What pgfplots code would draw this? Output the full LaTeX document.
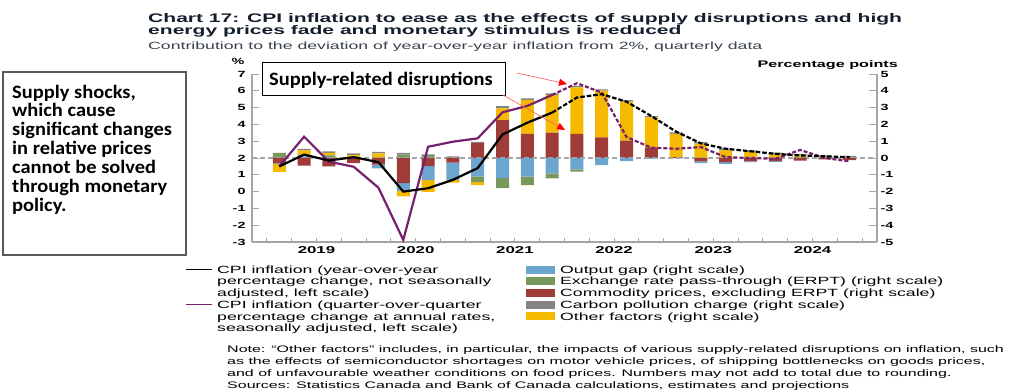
\documentclass[border=0pt]{standalone}
\usepackage{fontspec}
\usepackage{pgfplots}
\pgfplotsset{compat=1.18}
\usepackage{pgfplotstable}
\usetikzlibrary{arrows.meta}
\newfontfamily\chartfont[FakeStretch=1.6]{Liberation Sans}
\newfontfamily\widefont[FakeStretch=1.69]{Liberation Sans}
\newfontfamily\boxfont[FakeStretch=1.08]{Carlito}
\definecolor{ogap}{RGB}{108,165,205}
\definecolor{erpt}{RGB}{120,152,92}
\definecolor{commod}{RGB}{160,60,56}
\definecolor{carbon}{RGB}{132,132,132}
\definecolor{other}{RGB}{245,185,0}
\definecolor{cpiq}{RGB}{118,32,110}
\definecolor{ttl}{RGB}{20,30,45}
\definecolor{axgray}{RGB}{165,165,165}

% positive contributions (right scale)
\pgfplotstableread{
idx blue green red yellow gray
0  0    0.30 0    0    0
1  0.10 0.10 0    0.25 0.10
2  0.05 0.10 0    0.15 0.10
3  0    0.03 0    0.15 0.10
4  0    0    0    0.27 0.10
5  0    0.20 0    0    0.10
6  0    0.12 0    0    0.10
7  0    0    0    0    0.10
8  0    0    0.88 0    0.08
9  0    0    2.26 0.69 0.14
10 0    0    1.43 2.02 0.10
11 0    0    1.51 2.24 0.10
12 0    0    1.43 2.78 0.08
13 0    0    1.23 2.78 0.08
14 0    0    1.03 2.32 0.10
15 0    0    0.63 1.79 0.08
16 0    0    0.05 1.39 0.08
17 0    0    0    0.85 0.10
18 0    0    0    0.45 0.12
19 0    0    0    0.35 0.10
20 0    0    0    0.20 0.12
21 0    0.05 0    0.10 0.10
22 0    0.03 0    0.03 0.10
23 0    0.03 0    0    0.10
}\pos
% negative contributions (right scale)
\pgfplotstableread{
idx red blue green yellow
0  -0.32 -0.05 0     -0.45
1  -0.45 0     0     0
2  -0.50 0     0     0
3  -0.30 0     0     0
4  -0.40 -0.22 0     0
5  -1.50 -0.45 0     -0.33
6  -0.48 -0.83 0     -0.70
7  -0.28 -1.03 0     -0.16
8  0     -1.10 -0.32 -0.20
9  0     -1.20 -0.60 0
10 0     -1.11 -0.50 0
11 0     -0.91 -0.30 0
12 0     -0.67 -0.14 0
13 0     -0.42 0     0
14 0     -0.18 0     0
15 0     -0.03 0     0
16 0     0     0     0
17 -0.20 -0.10 0     0
18 -0.25 -0.10 0     0
19 -0.20 -0.05 0     0
20 -0.18 -0.05 0     0
21 -0.15 0     0     0
22 -0.08 0     0     0
23 -0.12 0     0     0
}\neg
% CPI lines (left scale)
\pgfplotstableread{
idx yoy qoq
0  1.50 1.50
1  2.20 3.27
2  1.85 1.78
3  2.05 1.48
4  1.75 0.23
5  0.00 -2.88
6  0.20 2.67
7  0.70 2.97
8  1.40 3.17
9  3.40 4.72
10 4.10 5.10
11 4.70 5.75
12 5.60 6.45
13 5.80 5.90
14 5.35 3.25
15 4.50 2.61
16 3.57 2.55
17 2.87 2.65
18 2.55 2.05
19 2.40 2.00
20 2.25 1.95
21 2.15 2.48
22 2.10 2.00
23 2.05 1.80
}\cpi

\pgfplotsset{
  base/.style={
    at={(252bp,149bp)}, anchor=south west,
    width=625bp, height=168bp, scale only axis,
    xmin=-1.1, xmax=24.1,
    /pgf/number format/assume math mode=true,
    axis line style={draw=axgray, line width=1.3bp},
    tick style={axgray, line width=1bp},
    tick align=inside,
  }
}

\begin{document}
\begin{tikzpicture}[x=1bp,y=1bp]
\useasboundingbox (0,0) rectangle (1024,391);

% ---------- positive bars + right axis ----------
\begin{axis}[base,
  ymin=-5, ymax=5,
  axis y line*=right, axis x line=none,
  ytick={-5,-4,...,5}, major tick length=8bp,
  y tick label style={font=\chartfont\bfseries\fontsize{9}{10}\selectfont},
  ybar stacked, bar width=13bp,
]
\draw[axgray, dash pattern=on 5bp off 3bp, line width=1.2bp] (axis cs:-1.1,0) -- (axis cs:24.1,0);
\addplot[fill=ogap, draw=none] table[x=idx,y=blue]{\pos};
\addplot[fill=erpt, draw=none] table[x=idx,y=green]{\pos};
\addplot[fill=commod, draw=none] table[x=idx,y=red]{\pos};
\addplot[fill=other, draw=none] table[x=idx,y=yellow]{\pos};
\addplot[fill=carbon, draw=none] table[x=idx,y=gray]{\pos};
\end{axis}

% ---------- negative bars ----------
\begin{axis}[base,
  ymin=-5, ymax=5, hide axis,
  ybar stacked, bar width=13bp,
]
\addplot[fill=commod, draw=none] table[x=idx,y=red]{\neg};
\addplot[fill=ogap, draw=none] table[x=idx,y=blue]{\neg};
\addplot[fill=erpt, draw=none] table[x=idx,y=green]{\neg};
\addplot[fill=other, draw=none] table[x=idx,y=yellow]{\neg};
\end{axis}

% ---------- CPI lines + left axis ----------
\begin{axis}[base,
  ymin=-3, ymax=7,
  axis y line*=left, axis x line*=bottom,
  xtick={1.5,5.5,9.5,13.5,17.5,21.5},
  xticklabels={2019,2020,2021,2022,2023,2024},
  minor xtick={-0.5,0.5,...,23.5},
  major x tick style={draw=none},
  minor tick length=4.5bp, major tick length=7bp,
  ytick={-3,-2,...,7},
  x tick label style={font=\widefont\bfseries\fontsize{10}{11}\selectfont, yshift=-1.5bp},
  y tick label style={font=\chartfont\bfseries\fontsize{9}{10}\selectfont, xshift=-3bp},
]
\addplot[cpiq, line width=2.2bp, restrict x to domain=0:11] table[x=idx,y=qoq]{\cpi};
\addplot[cpiq, line width=2.2bp, dash pattern=on 4bp off 2bp, restrict x to domain=11:23] table[x=idx,y=qoq]{\cpi};
\addplot[black, line width=2.2bp, restrict x to domain=0:11] table[x=idx,y=yoy]{\cpi};
\addplot[black, line width=2.2bp, dash pattern=on 4.5bp off 2bp, restrict x to domain=11:23] table[x=idx,y=yoy]{\cpi};
\end{axis}

% ---------- titles ----------
\node[anchor=base west, inner sep=0, text=ttl, font=\widefont\bfseries\fontsize{12.5}{12}\selectfont] at (148,368.8) {Chart 17: CPI inflation to ease as the effects of supply disruptions and high};
\node[anchor=base west, inner sep=0, text=ttl, font=\widefont\bfseries\fontsize{12.5}{12}\selectfont] at (148,356.8) {energy prices fade and monetary stimulus is reduced};
\node[anchor=base west, inner sep=0, text=ttl!85, font=\widefont\fontsize{10.5}{11}\selectfont] at (148,341.5) {Contribution to the deviation of year-over-year inflation from 2\%, quarterly data};

\node[anchor=base, inner sep=0, font=\chartfont\bfseries\fontsize{9}{10}\selectfont] at (238,327) {\%};
\node[anchor=base east, inner sep=0, font=\widefont\bfseries\fontsize{9.6}{10}\selectfont] at (898,324) {Percentage points};

% ---------- annotation box and arrows ----------
\draw[black, line width=0.8bp, fill=white] (262,329) rectangle (505,296);
\node[anchor=base west, inner sep=0, font=\boxfont\bfseries\fontsize{19}{19}\selectfont] at (269,305.5) {Supply-related disruptions};
\draw[red!60, line width=0.7bp, -{Triangle[length=8bp,width=7bp,fill=red,color=red]}] (517,318) -- (567,307);
\draw[red!60, line width=0.7bp, -{Triangle[length=8bp,width=7bp,fill=red,color=red]}] (503,296) -- (565,261);

% ---------- left comment box ----------
\draw[gray!70!black, line width=1.2bp] (3,319) rectangle (186,136);
\begin{scope}[every node/.style={anchor=base west, inner sep=0, font=\boxfont\bfseries\fontsize{19}{19}\selectfont}]
\node at (12,293) {Supply shocks,};
\node at (12,274.1) {which cause};
\node at (12,255.2) {significant changes};
\node at (12,236.3) {in relative prices};
\node at (12,217.4) {cannot be solved};
\node at (12,198.5) {through monetary};
\node at (12,179.6) {policy.};
\end{scope}

% ---------- legend ----------
\draw[black, line width=1.6bp] (186,121.5) -- (212,121.5);
\draw[cpiq, line width=1.6bp] (186,86.4) -- (212,86.4);
\begin{scope}[every node/.style={anchor=base west, inner sep=0, font=\widefont\fontsize{10.5}{11}\selectfont}]
\node at (217,117.8) {CPI inflation (year-over-year};
\node at (217,106.1) {percentage change, not seasonally};
\node at (217,94.4) {adjusted, left scale)};
\node at (217,82.7) {CPI inflation (quarter-over-quarter};
\node at (217,71.0) {percentage change at annual rates,};
\node at (217,59.3) {seasonally adjusted, left scale)};
\node at (560,117.8) {Output gap (right scale)};
\node at (560,106.1) {Exchange rate pass-through (ERPT) (right scale)};
\node at (560,94.4) {Commodity prices, excluding ERPT (right scale)};
\node at (560,82.7) {Carbon pollution charge (right scale)};
\node at (560,71.0) {Other factors (right scale)};
\end{scope}
\fill[ogap]   (526,117.5) rectangle (555,125.5);
\fill[erpt]   (526,105.8) rectangle (555,113.8);
\fill[commod] (526,94.1) rectangle (555,102.1);
\fill[carbon] (526,82.4) rectangle (555,90.4);
\fill[other]  (526,70.7) rectangle (555,78.7);

% ---------- note ----------
\begin{scope}[every node/.style={anchor=base west, inner sep=0, font=\widefont\fontsize{9.5}{10}\selectfont}]
\node at (227,38.6) {Note: “Other factors” includes, in particular, the impacts of various supply-related disruptions on inflation, such};
\node at (227,26.6) {as the effects of semiconductor shortages on motor vehicle prices, of shipping bottlenecks on goods prices,};
\node at (227,14.6) {and of unfavourable weather conditions on food prices. Numbers may not add to total due to rounding.};
\node at (227,2.4) {Sources: Statistics Canada and Bank of Canada calculations, estimates and projections};
\end{scope}
\end{tikzpicture}
\end{document}
